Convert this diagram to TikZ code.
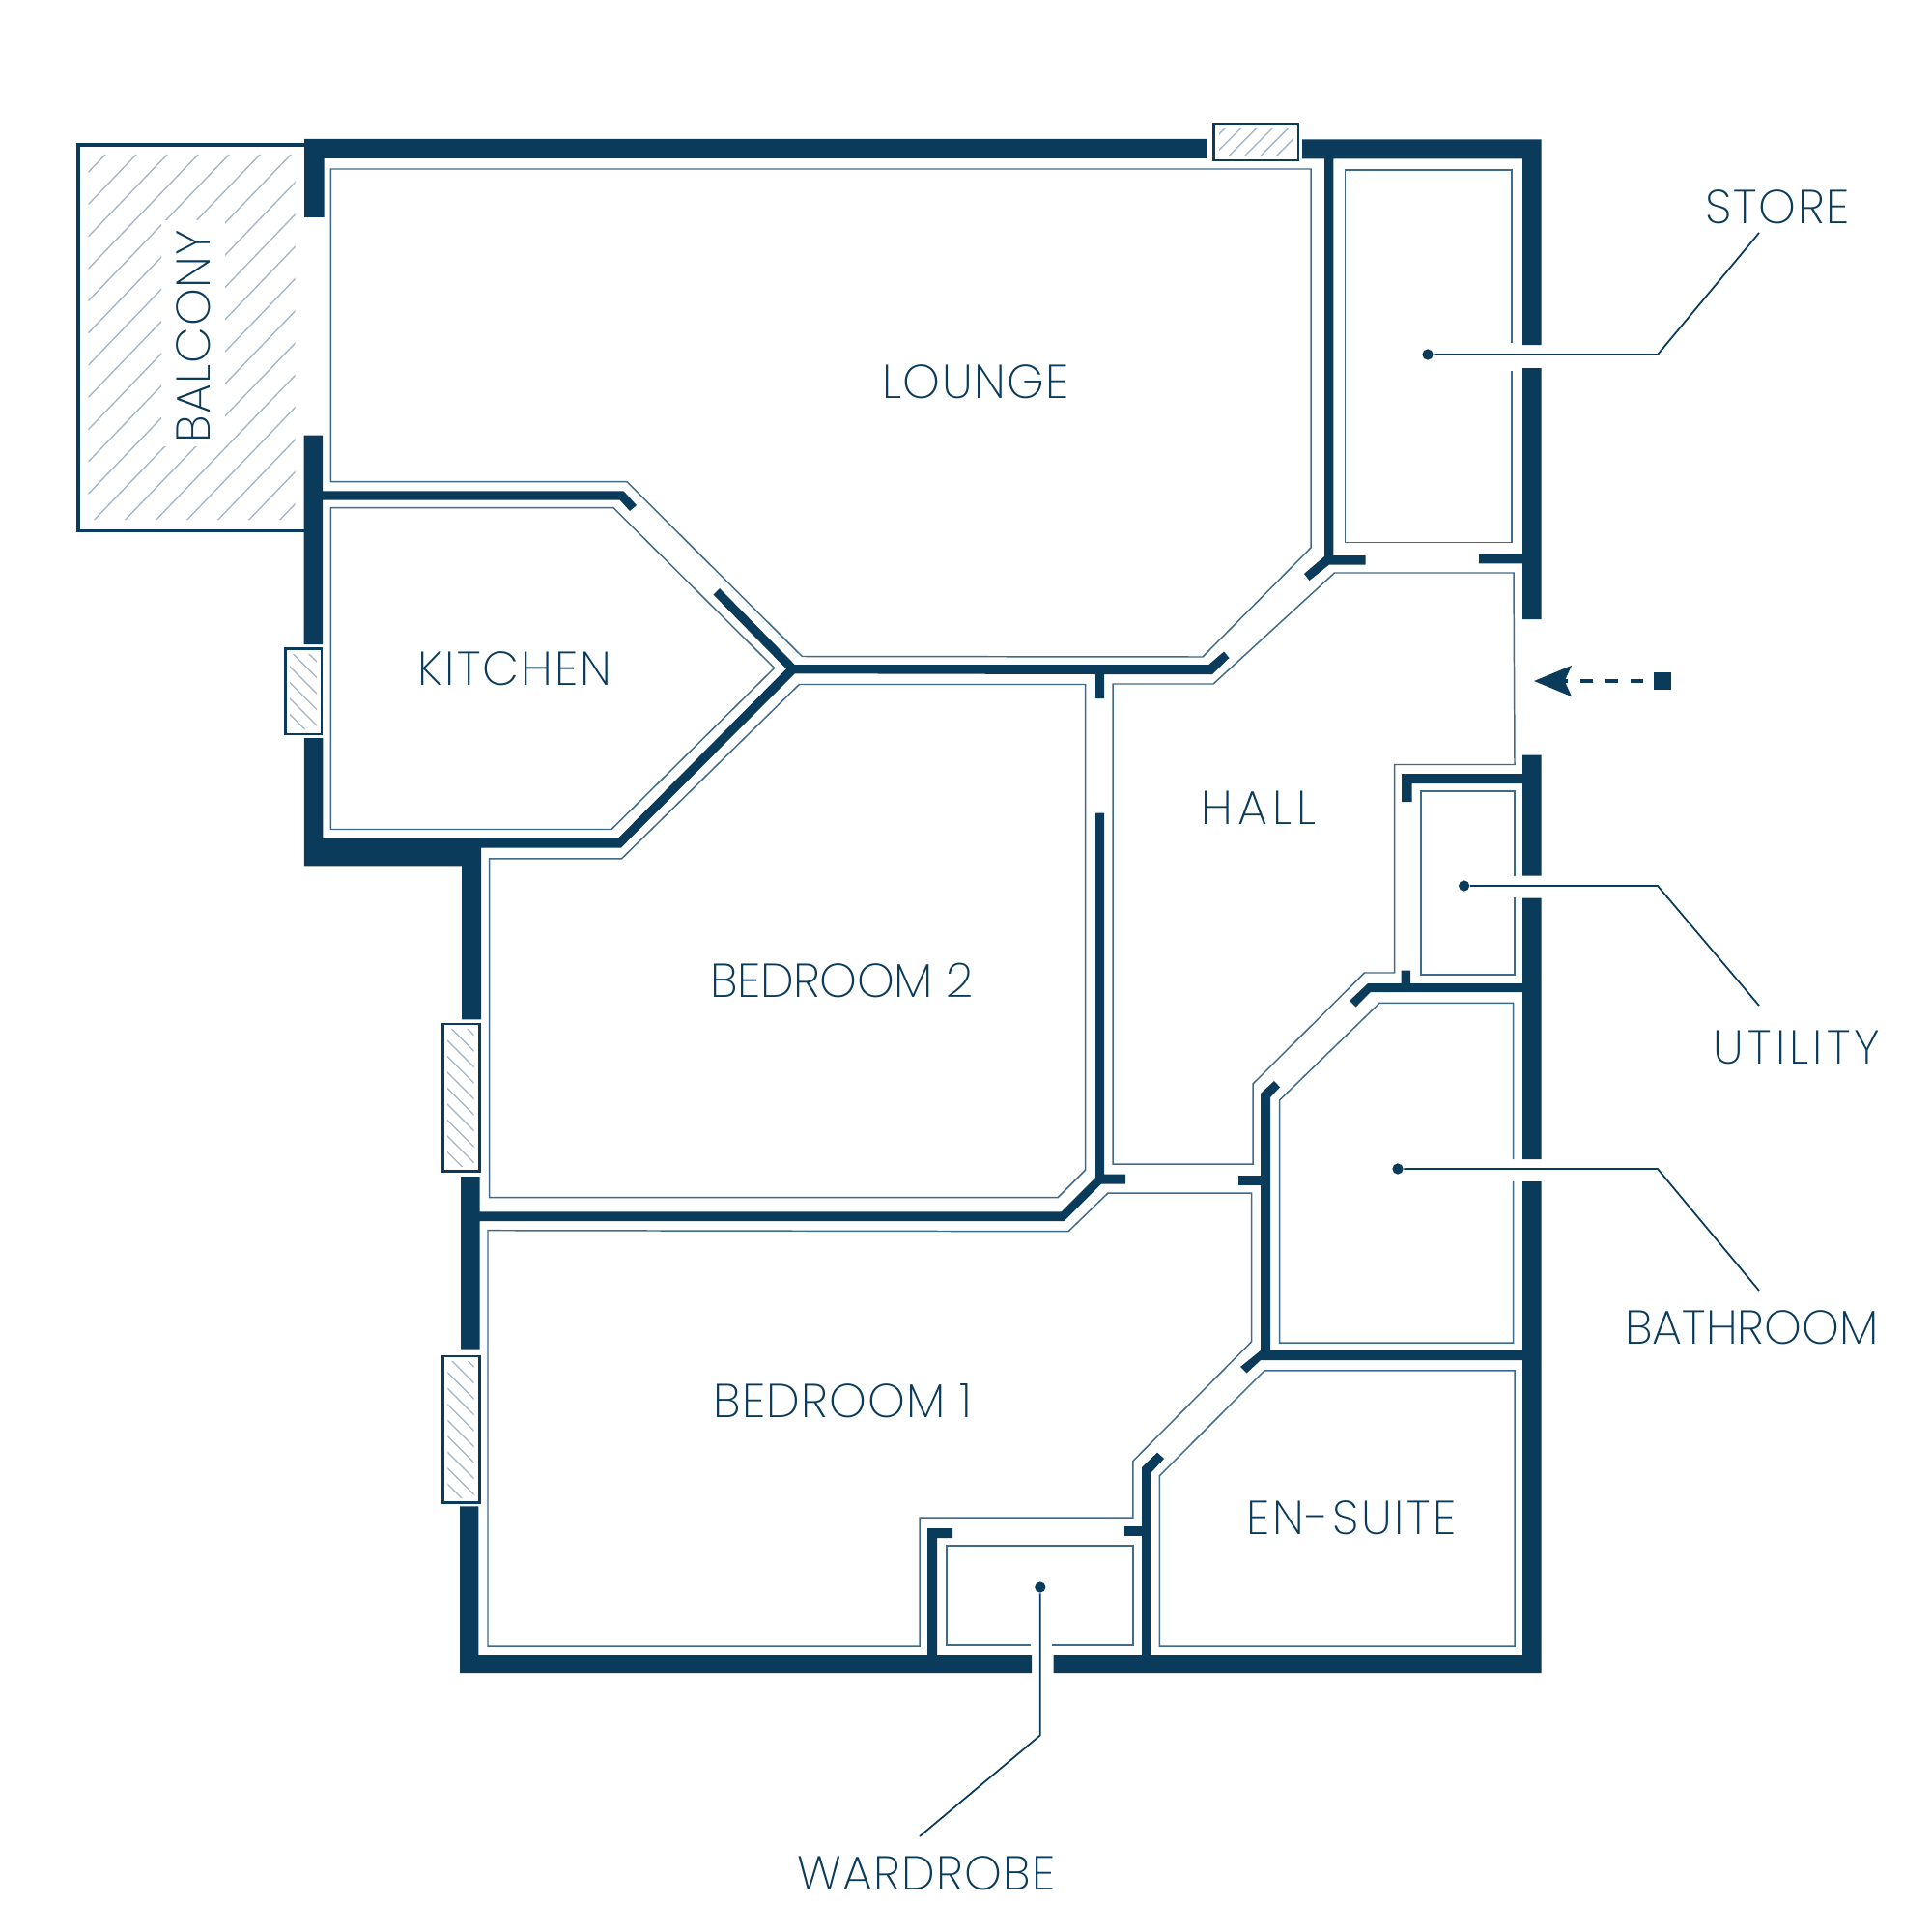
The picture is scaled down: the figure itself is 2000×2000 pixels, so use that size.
\documentclass[tikz,border=0pt]{standalone}
\usepackage{fontspec}
\setmainfont{Poppins}[UprightFont=* ExtraLight]
\usetikzlibrary{arrows.meta}
\definecolor{wallblue}{HTML}{0A3B5B}
\definecolor{linkblue}{HTML}{3F6A88}
\definecolor{hatchblue}{HTML}{A3B6C6}
\tikzset{
  wall/.style={fill=wallblue, draw=none},
  roomline/.style={draw=linkblue, line width=0.42pt, line join=miter},
  hatchline/.style={draw=hatchblue, line width=0.38pt},
  winframe/.style={draw=wallblue, line width=0.7pt, fill=white},
  leader/.style={draw=wallblue, line width=0.5pt},
  leaddot/.style={circle, fill=wallblue, inner sep=0pt, minimum size=3.2pt},
  roomlabel/.style={text=wallblue, font=\fontsize{14pt}{16pt}\selectfont, inner sep=0pt},
  spread/.style={execute at begin node=\addfontfeature{LetterSpace=#1}}
}
\begin{document}
\begin{tikzpicture}[x=0.01cm, y=-0.01cm, >=Stealth]
    \useasboundingbox (0,0) rectangle (2000,2000);

    % --- balcony ---
    \draw[draw=wallblue, line width=1.05pt] (315,150) -- (81,150) -- (81,549.5) -- (315,549.5);
    \begin{scope}[even odd rule]
        \clip (91.4,160) rectangle (305.7,538) (167,228) rectangle (233,462);
        \foreach \k in {0,...,17}
            \draw[hatchline] (91.4,178.3+33.3*\k) -- (541.4,178.3+33.3*\k-468);
    \end{scope}

    % --- windows ---
    \draw[winframe] (1256.5,128) rectangle (1344,166);
    \begin{scope}
        \clip (1262,133) rectangle (1339,160.5);
        \foreach \k in {0,...,5}
            \draw[hatchline] (1200.8+16.4*\k,200) -- (1300.8+16.4*\k,100);
    \end{scope}
    \draw[winframe] (295.5,671.5) rectangle (333,760);
    \begin{scope}
        \clip (300,677) rectangle (328,754);
        \foreach \k in {0,...,5}
            \draw[hatchline] (250,607+16.5*\k) -- (350,707+16.5*\k);
    \end{scope}
    \draw[winframe] (458.5,1060) rectangle (496.5,1212.5);
    \begin{scope}
        \clip (463,1065.5) rectangle (490.5,1207);
        \foreach \k in {0,...,9}
            \draw[hatchline] (400,981+16.5*\k) -- (500,1081+16.5*\k);
    \end{scope}
    \draw[winframe] (458.5,1404) rectangle (496.5,1555.5);
    \begin{scope}
        \clip (463.3,1409.5) rectangle (490.7,1550);
        \foreach \k in {0,...,9}
            \draw[hatchline] (400,1324.5+16.5*\k) -- (500,1424.5+16.5*\k);
    \end{scope}

    % --- walls ---
    \fill[wall] (315,144) -- (1249.5,144) -- (1249.5,164) -- (335.5,164) -- (335.5,225) -- (315,225) -- cycle;
    \fill[wall] (1348,144.5) -- (1595.5,144.5) -- (1595.5,357) -- (1576,357) -- (1576,164.5) -- (1380.4,164.5)
        -- (1380.4,575) -- (1413.7,575) -- (1413.7,584.5) -- (1376,584.5) -- (1355.5,601) -- (1350,594)
        -- (1371,576) -- (1371,164.5) -- (1348,164.5) -- cycle;
    \fill[wall] (1576,381) -- (1595.5,381) -- (1595.5,641) -- (1576,641) -- (1576,583.4) -- (1531,583.4)
        -- (1531,573.5) -- (1576,573.5) -- cycle;
    \fill[wall] (1576,781.7) -- (1595.5,781.7) -- (1595.5,906.7) -- (1576,906.7) -- (1576,811) -- (1461.6,811)
        -- (1461.6,830) -- (1451,830) -- (1451,801) -- (1576,801) -- cycle;
    \fill[wall] (1576,929.5) -- (1595.5,929.5) -- (1595.5,1200) -- (1576,1200) -- (1576,1027) -- (1418.8,1027)
        -- (1403.6,1042.4) -- (1397,1036) -- (1416,1018) -- (1450.5,1018) -- (1450.5,1004.5) -- (1460,1004.5)
        -- (1460,1018) -- (1576,1018) -- cycle;
    \fill[wall] (1576,1223) -- (1595.5,1223) -- (1595.5,1732) -- (1090.6,1732) -- (1090.6,1713) -- (1576,1713) -- cycle;
    \fill[wall] (1182,1519) -- (1198,1503.6) -- (1205,1510) -- (1191.5,1524.5) -- (1191.5,1713) -- (1182,1713) -- cycle;
    \fill[wall] (1164,1580) rectangle (1182,1590);
    \fill[wall] (1576,1398) -- (1576,1408) -- (1305,1408) -- (1290.6,1421.4) -- (1284,1415) -- (1305,1398)
        -- (1305,1132) -- (1319,1119) -- (1325,1125.4) -- (1315,1136) -- (1315,1398) -- cycle;
    \fill[wall] (1282,1217) rectangle (1305,1227);
    \fill[wall] (477,1218) -- (496.6,1218) -- (496.6,1254.4) -- (1098.6,1254.4) -- (1134,1219) -- (1134,841.5)
        -- (1143,841.5) -- (1143,1215.6) -- (1165,1215.6) -- (1165,1225.5) -- (1140,1225.5) -- (1101.5,1264)
        -- (496.6,1264) -- (496.6,1396.5) -- (477,1396.5) -- cycle;
    \fill[wall] (476,1559.3) -- (495.3,1559.3) -- (495.3,1713) -- (960,1713) -- (960,1582) -- (986,1582)
        -- (986,1592) -- (970,1592) -- (970,1713) -- (1068,1713) -- (1068,1732) -- (476,1732) -- cycle;
    \fill[wall] (314.5,450.7) -- (334,450.7) -- (334,508.3) -- (645.5,508.3) -- (659,523) -- (652,529)
        -- (641.7,517.7) -- (334,517.7) -- (334,667) -- (314.5,667) -- cycle;
    \fill[wall] (314.8,764) -- (334.3,764) -- (334.3,867.9) -- (639.7,867.9) -- (813.9,692.4) -- (738.5,615.6)
        -- (745,609) -- (822.7,688) -- (1251.4,688) -- (1267,674.5) -- (1272.5,681) -- (1255,698) -- (1143,698)
        -- (1143,723) -- (1134,723) -- (1134,698) -- (822.7,697.3) -- (642.8,877.7) -- (498,877.7)
        -- (498,1055.4) -- (478.2,1055.4) -- (478.2,896.4) -- (314.8,896.4) -- cycle;

    % --- room outlines ---
    \draw[roomline] (342.4,175) -- (1357,175) -- (1357,567) -- (1245,680) -- (830.3,679.5) -- (649,498.7) -- (342.4,498.7) -- cycle;
    \draw[roomline] (1565,355) -- (1565,176) -- (1392.6,176) -- (1392.6,561.6) -- (1565,561.6) -- (1565,383.6);
    \draw[roomline] (1152,708) -- (1256,708) -- (1381.5,593) -- (1567,593) -- (1568,791.5) -- (1443.7,791.5) -- (1443.7,1007)
        -- (1412.5,1007) -- (1297,1122) -- (1297,1205) -- (1152,1205) -- cycle;
    \draw[roomline] (342.4,525.7) -- (635,525.7) -- (801.6,691.5) -- (633,858.5) -- (342.4,858.5) -- cycle;
    \draw[roomline] (506.6,888.8) -- (643.6,888.8) -- (827.3,708.5) -- (1123.7,708.5) -- (1123.7,1211) -- (1095,1239.7) -- (506.6,1239.7) -- cycle;
    \draw[roomline] (505,1273.7) -- (1106,1274.7) -- (1147,1235) -- (1295.5,1235) -- (1295.5,1389) -- (1172.8,1512.5)
        -- (1172.8,1571) -- (952,1571) -- (952,1704) -- (505,1704) -- cycle;
    \draw[roomline] (1568,907) -- (1568,819) -- (1471,819) -- (1471,1009) -- (1568,1009) -- (1568,929);
    \draw[roomline] (1566.5,1200) -- (1566.5,1038.4) -- (1428,1038.4) -- (1324.5,1139) -- (1324.5,1390) -- (1566.5,1390) -- (1566.5,1223);
    \draw[roomline] (1309,1418.8) -- (1568,1418.8) -- (1568,1704) -- (1200.4,1704) -- (1200.4,1527.7) -- cycle;
    \draw[roomline] (1067.4,1703) -- (980,1703) -- (980,1600) -- (1172.8,1600) -- (1172.8,1703) -- (1089,1703);

    % --- entrance arrow ---
    \node[fill=wallblue, inner sep=0pt, minimum size=5.2pt] (entrysq) at (1721,705) {};
    \coordinate (entrytip) at (1588,705);
    \draw[wallblue, line width=1.15pt, dash pattern=on 3.7pt off 3.7pt, dash phase=-3pt,
        -{Stealth[length=11pt, width=9pt, inset=2pt]}] (entrysq) -- (entrytip);

    % --- room names ---
    \node[roomlabel, spread=1.6, rotate=90] (balcony) at (200,348) {BALCONY};
    \node[roomlabel, spread=3] (lounge) at (1010,395) {LOUNGE};
    \node[roomlabel, spread=4.3] (kitchen) at (533,692) {KITCHEN};
    \node[roomlabel, spread=-0.7] (bedtwo) at (871.5,1015) {BEDROOM 2};
    \node[roomlabel, spread=10.5] (hall) at (1303,836) {HALL};
    \node[roomlabel, spread=2.2] (bedone) at (872.5,1450) {BEDROOM 1};
    \node[roomlabel, spread=5.5] (ensuite) at (1399,1571) {EN-SUITE};
    \node[roomlabel, spread=2.7] (wardrobe) at (959,1939) {WARDROBE};
    \node[roomlabel, spread=3.9] (store) at (1840,214) {STORE};
    \node[roomlabel, spread=8.2] (utility) at (1860,1084) {UTILITY};
    \node[roomlabel, spread=0] (bathroom) at (1813.5,1374) {BATHROOM};

    % --- leaders ---
    \node[leaddot] (storedot) at (1478,367) {};
    \coordinate (storeelbow) at (1716,367);
    \coordinate (storeend) at (1821,241);
    \draw[leader] (storedot) -- (storeelbow) -- (storeend);

    \node[leaddot] (utilitydot) at (1515.6,917) {};
    \coordinate (utilityelbow) at (1716,917);
    \coordinate (utilityend) at (1821,1041);
    \draw[leader] (utilitydot) -- (utilityelbow) -- (utilityend);

    \node[leaddot] (bathroomdot) at (1447,1210) {};
    \coordinate (bathroomelbow) at (1716,1210);
    \coordinate (bathroomend) at (1821,1336);
    \draw[leader] (bathroomdot) -- (bathroomelbow) -- (bathroomend);

    \node[leaddot] (wardrobedot) at (1076.8,1643) {};
    \coordinate (wardrobeelbow) at (1076.8,1796.4);
    \coordinate (wardrobeend) at (952,1901);
    \draw[leader] (wardrobedot) -- (wardrobeelbow) -- (wardrobeend);
\end{tikzpicture}
\end{document}
